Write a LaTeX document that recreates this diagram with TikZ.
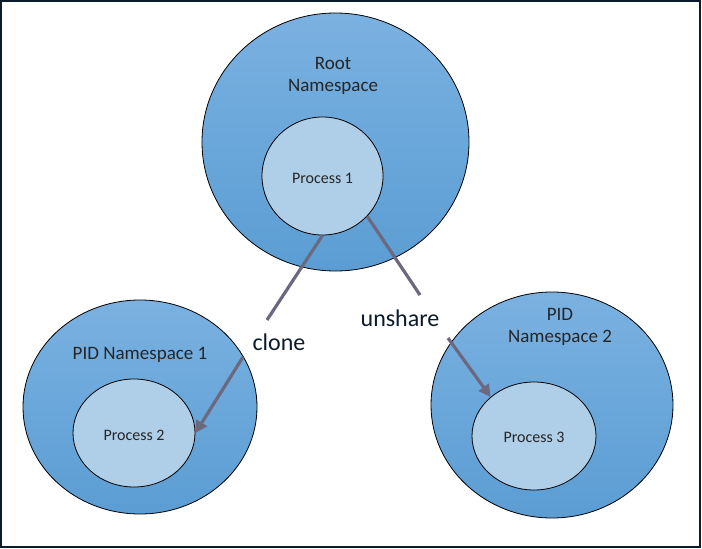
\documentclass[tikz,border=0pt]{standalone}
\usepackage{fontspec}
\setmainfont{Carlito}
\usepackage{tikz}
\usetikzlibrary{arrows.meta, positioning, shapes.geometric}

\definecolor{nstop}{HTML}{7AB1E1}
\definecolor{nsbot}{HTML}{5B9DD3}
\definecolor{proclight}{HTML}{AFCEE8}
\definecolor{linkgray}{HTML}{6C6880}
\definecolor{framenavy}{HTML}{0C1B2B}

\begin{document}
\begin{tikzpicture}[x=1pt, y=-1pt,
    ns/.style={draw, ellipse, inner sep=0pt, top color=nstop, bottom color=nsbot, line width=0.8pt},
    proc/.style={draw, ellipse, inner sep=0pt, fill=proclight, line width=0.8pt},
    proclbl/.style={font=\fontsize{16}{19}\selectfont, text=black!85},
    nslbl/.style={align=center, font=\fontsize{19}{22}\selectfont, text=black!85},
    calllbl/.style={font=\fontsize{24}{28}\selectfont, text=framenavy},
    link/.style={draw=linkgray, line width=3.2pt},
    linkarrow/.style={link, -{Triangle[length=12pt, width=12pt]}}]
    \useasboundingbox (0,0) rectangle (702,549);
    \draw[framenavy, line width=2pt] (1,1) rectangle (700,547);

    % namespaces
    \node (root) [ns, minimum width=267pt, minimum height=258pt] at (335.5,142) {};
    \node (ns1) [ns, minimum width=234pt, minimum height=214pt] at (140,407) {};
    \node (ns2) [ns, minimum width=242pt, minimum height=226pt] at (552,405) {};

    \node (rootlbl) [nslbl] at (333,76) {Root\\Namespace};
    \node (ns1lbl) [nslbl] at (140,355) {PID Namespace 1};
    \node (ns2lbl) [nslbl] at (560,327) {PID\\Namespace 2};

    % processes
    \node (proc1) [proc, minimum width=121pt, minimum height=118pt] at (322.5,176) {};
    \node (proc2) [proc, minimum width=122pt, minimum height=108pt] at (134,433) {};
    \node (proc3) [proc, minimum width=124pt, minimum height=108pt] at (534,436) {};

    \node (proc1lbl) [proclbl] at (322.5,178) {Process 1};
    \node (proc2lbl) [proclbl] at (134,435) {Process 2};
    \node (proc3lbl) [proclbl] at (534,437) {Process 3};

    % calls
    \node (clonelbl) [calllbl] at (279,342) {clone};
    \node (unsharelbl) [calllbl] at (400,318) {unshare};

    \coordinate (cloneA) at (267,320);
    \coordinate (cloneB) at (243,357);
    \coordinate (unshareA) at (420,295);
    \coordinate (unshareB) at (448,338);

    \draw[link] (proc1.270) -- (cloneA);
    \draw[linkarrow] (cloneB) -- (proc2.east);
    \draw[link] (proc1.318) -- (unshareA);
    \draw[linkarrow] (unshareB) -- (proc3.138);
\end{tikzpicture}
\end{document}
